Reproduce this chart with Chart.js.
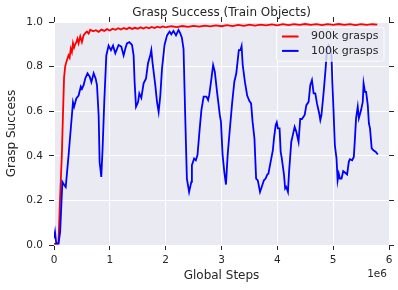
<!DOCTYPE html>
<html>
<head>
<meta charset="utf-8">
<script src="https://cdn.jsdelivr.net/npm/chart.js@4.4.1/dist/chart.umd.min.js"></script>
<style>
  html, body { margin:0; padding:0; background:#fff; }
  #wrap { width:398px; height:290px; }
</style>
</head>
<body>
<div id="wrap"><canvas id="graspChart" width="398" height="290"></canvas></div>
<script>
// global steps are in millions (axis shows x1e6)
const xTicks = [0, 1, 2, 3, 4, 5, 6];
const yTicks = [0.0, 0.2, 0.4, 0.6, 0.8, 1.0];

const bigSteps = [0.00,0.04,0.08,0.11,0.14,0.16,0.18,0.20,0.22,0.24,0.26,0.28,0.30,0.32,0.34,0.36,0.38,0.40,0.42,0.44,0.47,0.50,0.53,0.56,0.59,0.62,0.65,0.70,0.75,0.80,0.85,0.90,0.95,1.00,1.05,1.10,1.15,1.20,1.25,1.30,1.35,1.40,1.45,1.50,1.55,1.60,1.65,1.70,1.75,1.80,1.85,1.90,1.95,2.00,2.10,2.20,2.30,2.40,2.50,2.60,2.70,2.80,2.90,3.00,3.10,3.20,3.30,3.40,3.50,3.60,3.70,3.80,3.90,4.00,4.10,4.20,4.30,4.40,4.50,4.60,4.70,4.80,4.90,5.00,5.10,5.20,5.30,5.40,5.50,5.60,5.70,5.79];
const bigSuccess = [0.005,0.006,0.008,0.22,0.40,0.58,0.75,0.80,0.82,0.835,0.85,0.84,0.88,0.865,0.905,0.885,0.90,0.91,0.925,0.905,0.935,0.91,0.94,0.95,0.957,0.948,0.965,0.958,0.963,0.956,0.966,0.96,0.968,0.962,0.97,0.965,0.972,0.966,0.973,0.968,0.975,0.969,0.974,0.97,0.976,0.971,0.977,0.972,0.978,0.973,0.979,0.975,0.98,0.976,0.981,0.977,0.982,0.978,0.983,0.979,0.984,0.98,0.985,0.981,0.986,0.982,0.987,0.983,0.988,0.984,0.988,0.985,0.989,0.985,0.99,0.986,0.99,0.987,0.991,0.987,0.99,0.986,0.99,0.987,0.991,0.987,0.99,0.986,0.99,0.987,0.99,0.988];

const smallSteps = [0.00,0.018,0.04,0.08,0.11,0.15,0.18,0.21,0.26,0.30,0.34,0.36,0.40,0.44,0.48,0.50,0.53,0.56,0.60,0.64,0.67,0.71,0.745,0.77,0.80,0.817,0.847,0.87,0.90,0.937,0.978,1.02,1.057,1.098,1.157,1.205,1.247,1.277,1.307,1.35,1.397,1.426,1.444,1.469,1.505,1.528,1.564,1.605,1.648,1.684,1.725,1.743,1.766,1.814,1.845,1.874,1.904,1.934,1.98,2.024,2.07,2.10,2.14,2.185,2.23,2.26,2.29,2.32,2.35,2.38,2.42,2.46,2.47,2.51,2.54,2.57,2.61,2.64,2.68,2.73,2.76,2.78,2.82,2.85,2.88,2.92,2.97,2.99,3.02,3.05,3.08,3.11,3.145,3.19,3.23,3.265,3.31,3.34,3.36,3.38,3.42,3.46,3.50,3.53,3.557,3.59,3.62,3.65,3.69,3.72,3.76,3.79,3.82,3.84,3.88,3.92,3.94,3.97,3.99,4.01,4.04,4.06,4.08,4.12,4.14,4.16,4.19,4.21,4.25,4.27,4.31,4.34,4.38,4.41,4.44,4.49,4.52,4.56,4.59,4.62,4.65,4.68,4.71,4.75,4.77,4.79,4.83,4.865,4.89,4.92,4.95,4.97,4.985,5.01,5.03,5.06,5.08,5.10,5.12,5.15,5.18,5.21,5.25,5.28,5.30,5.34,5.37,5.39,5.41,5.44,5.46,5.50,5.53,5.545,5.57,5.59,5.62,5.64,5.66,5.69,5.72,5.76,5.80];
const smallSuccess = [0.03,0.058,0.006,0.006,0.058,0.283,0.27,0.26,0.40,0.52,0.64,0.62,0.657,0.67,0.71,0.70,0.717,0.747,0.77,0.755,0.73,0.77,0.747,0.717,0.58,0.373,0.305,0.43,0.64,0.85,0.894,0.874,0.894,0.86,0.897,0.89,0.85,0.88,0.904,0.91,0.897,0.85,0.73,0.62,0.64,0.68,0.66,0.725,0.747,0.815,0.852,0.874,0.815,0.717,0.642,0.597,0.67,0.79,0.897,0.94,0.957,0.945,0.96,0.94,0.964,0.95,0.93,0.88,0.58,0.298,0.238,0.283,0.358,0.388,0.38,0.403,0.523,0.605,0.665,0.665,0.65,0.672,0.747,0.807,0.777,0.687,0.582,0.553,0.403,0.328,0.271,0.403,0.507,0.635,0.732,0.77,0.874,0.874,0.892,0.807,0.73,0.67,0.645,0.635,0.552,0.478,0.298,0.29,0.238,0.26,0.29,0.298,0.316,0.32,0.373,0.425,0.478,0.537,0.55,0.523,0.523,0.418,0.388,0.313,0.253,0.26,0.238,0.328,0.463,0.485,0.53,0.508,0.463,0.565,0.565,0.583,0.627,0.642,0.717,0.74,0.68,0.68,0.635,0.59,0.56,0.582,0.687,0.792,0.882,0.895,0.88,0.85,0.732,0.582,0.448,0.388,0.29,0.32,0.298,0.298,0.331,0.325,0.316,0.373,0.385,0.38,0.395,0.478,0.568,0.62,0.568,0.605,0.642,0.725,0.687,0.687,0.627,0.545,0.523,0.433,0.425,0.418,0.406];

const textColor = "#262626";
const font = "DejaVu Sans";

function toPoints(steps, vals){
    return steps.map((s,i)=>({ x: s*1e6, y: vals[i] }));
}

// grey plot background + legend box + offset label, the way seaborn draws them
const seabornBits = {
    id: "seabornBits",
    beforeDraw(chart){
        const {ctx, chartArea:a} = chart;
        ctx.save();
        ctx.fillStyle = "#EAEAF2";
        ctx.fillRect(a.left, a.top, a.right-a.left, a.bottom-a.top);
        ctx.restore();
    },
    afterDraw(chart){
        const {ctx, chartArea:a} = chart;
        ctx.save();
        // legend
        const bx = a.right-113, by = a.top+5, bw = 107.5, bh = 33.7;
        ctx.fillStyle = "rgba(234,234,242,0.8)";
        ctx.strokeStyle = "rgba(255,255,255,0.8)";
        ctx.lineWidth = 1;
        ctx.beginPath();
        ctx.roundRect(bx+0.5, by+0.5, bw, bh, 2);
        ctx.fill();
        ctx.stroke();
        ctx.font = "11px '" + font + "'";
        ctx.textBaseline = "middle";
        ctx.textAlign = "left";
        chart.data.datasets.forEach((ds,i)=>{
            const y = by + 9.5 + i*14.4;
            ctx.strokeStyle = ds.borderColor;
            ctx.lineWidth = 2;
            ctx.beginPath();
            ctx.moveTo(bx+6, y);
            ctx.lineTo(bx+22.5, y);
            ctx.stroke();
            ctx.fillStyle = textColor;
            ctx.fillText(ds.label, bx+35, y);
        });
        // x offset text
        ctx.font = "10.5px '" + font + "'";
        ctx.textAlign = "right";
        ctx.textBaseline = "alphabetic";
        ctx.fillText("1e6", a.right-2, 276.5);
        ctx.restore();
    }
};

const ctx = document.getElementById("graspChart").getContext("2d");

const chart = new Chart(ctx,{
    type:"scatter",
    data:{
        datasets:[
            {
                label:"900k grasps",
                data:toPoints(bigSteps, bigSuccess),
                borderColor:"#ff0000",
                borderWidth:1.8,
                showLine:true,
                pointRadius:0,
                order:1
            },
            {
                label:"100k grasps",
                data:toPoints(smallSteps, smallSuccess),
                borderColor:"#0000ff",
                borderWidth:1.8,
                showLine:true,
                pointRadius:0,
                order:0
            }
        ]
    },
    options:{
        responsive:false,
        animation:false,
        devicePixelRatio:1,
        events:[],
        layout:{ padding:0 },
        plugins:{
            legend:{ display:false },
            tooltip:{ enabled:false },
            title:{
                display:true,
                text:"Grasp Success (Train Objects)",
                fullSize:false,
                color:textColor,
                font:{ family:font, size:12, weight:"normal" },
                padding:{ top:6, bottom:0 }
            }
        },
        scales:{
            x:{
                type:"linear",
                position:"bottom",
                min:0, max:6e6,
                afterBuildTicks: s => { s.ticks = xTicks.map(v=>({ value:v*1e6 })); },
                ticks:{ callback: v => String(v/1e6), color:textColor, font:{ family:font, size:10.5 }, padding:4, maxRotation:0 },
                grid:{ color:"#ffffff", lineWidth:1, tickColor:textColor, tickLength:5 },
                border:{ display:false },
                title:{ display:true, text:"Global Steps", color:textColor, font:{ family:font, size:12 }, padding:{ top:0, bottom:7 } },
                afterFit: s => { s.height = 45; }
            },
            x2:{
                type:"linear",
                position:"top",
                min:0, max:6e6,
                afterBuildTicks: s => { s.ticks = xTicks.map(v=>({ value:v*1e6 })); },
                ticks:{ display:false },
                grid:{ drawOnChartArea:false, tickColor:textColor, tickLength:5 },
                border:{ display:false },
                afterFit: s => { s.height = 1.6; }
            },
            y:{
                type:"linear",
                position:"left",
                min:0, max:1,
                afterBuildTicks: s => { s.ticks = yTicks.map(v=>({ value:v })); },
                ticks:{ callback: v => v.toFixed(1), color:textColor, font:{ family:font, size:10.5 }, padding:6 },
                grid:{ color:"#ffffff", lineWidth:1, tickColor:textColor, tickLength:5 },
                border:{ display:false },
                title:{ display:true, text:"Grasp Success", color:textColor, font:{ family:font, size:12 }, padding:{ top:5, bottom:0 } },
                afterFit: s => { s.width = 54; }
            },
            y2:{
                type:"linear",
                position:"right",
                min:0, max:1,
                afterBuildTicks: s => { s.ticks = yTicks.map(v=>({ value:v })); },
                ticks:{ display:false },
                grid:{ drawOnChartArea:false, tickColor:textColor, tickLength:5 },
                border:{ display:false },
                afterFit: s => { s.width = 9; }
            }
        }
    },
    plugins:[seabornBits]
});
</script>
</body>
</html>
